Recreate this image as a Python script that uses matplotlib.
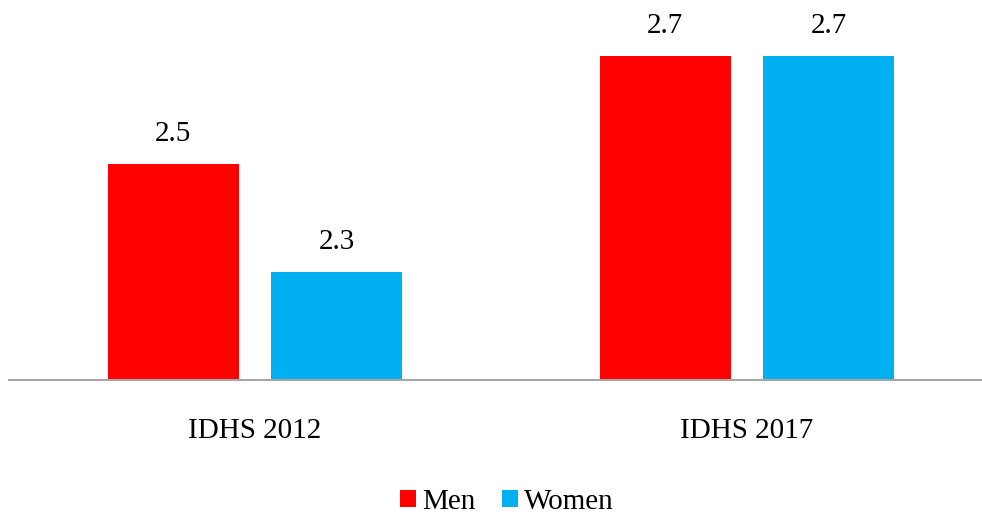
import matplotlib
matplotlib.use("Agg")
import matplotlib.pyplot as plt
import numpy as np

categories = ["IDHS 2012", "IDHS 2017"]
series_names = ["Men", "Women"]
men = [2.5, 2.7]
women = [2.3, 2.7]
colors = ["#FF0000", "#00B0F0"]

plt.rcParams['font.family'] = ['Liberation Serif', 'DejaVu Serif']

W, H = 982, 517
fig = plt.figure(figsize=(W/100, H/100), dpi=100)
ax = fig.add_axes([9/W, (H-380)/H, (982-9)/W, 380/H])

x = np.arange(len(categories))
bw = 0.266
off = 0.1665
for vals, dx, c, name in [(men, -off, colors[0], series_names[0]), (women, off, colors[1], series_names[1])]:
    bars = ax.bar(x + dx, vals, width=bw, bottom=0, color=c, label=name, zorder=2)
    for b, v in zip(bars, vals):
        ax.annotate(f"{v:.1f}", (b.get_x() + b.get_width()/2, v), xytext=(0, 16.5),
                    textcoords="offset points", ha="center", va="baseline", fontsize=21)

ax.set_ylim(2.1, 2.1 + 380/540)
ax.set_xlim(-0.5, -0.5 + (982-9)/492)
for s in ["top", "right", "left"]:
    ax.spines[s].set_visible(False)
ax.spines["bottom"].set_color("#A6A6A6")
ax.spines["bottom"].set_linewidth(1.5)
ax.set_yticks([])
ax.set_xticks(x)
ax.set_xticklabels(categories, fontsize=21)
ax.tick_params(axis="x", length=0, pad=27)

leg = fig.legend(loc="center", bbox_to_anchor=(507/W, 1 - 502/H), ncol=2, frameon=False,
                 fontsize=21, handlelength=0.55, handleheight=0.55, handletextpad=0.2,
                 columnspacing=0.9, borderpad=0.1)
fig.savefig("out.png", dpi=100)
